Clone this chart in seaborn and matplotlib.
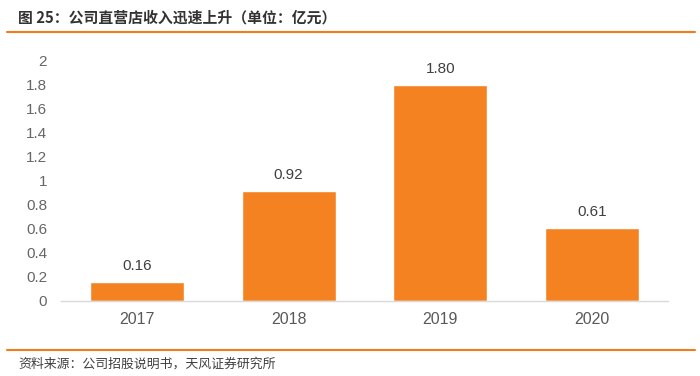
import matplotlib
matplotlib.use("Agg")
import matplotlib.pyplot as plt
import seaborn as sns
import pandas as pd
from matplotlib.lines import Line2D

years = ["2017", "2018", "2019", "2020"]
revenue = [0.16, 0.92, 1.80, 0.61]
yticks = [0, 0.2, 0.4, 0.6, 0.8, 1, 1.2, 1.4, 1.6, 1.8, 2]
ytick_labels = ["0", "0.2", "0.4", "0.6", "0.8", "1", "1.2", "1.4", "1.6", "1.8", "2"]
title = "图 25：公司直营店收入迅速上升（单位：亿元）"
source = "资料来源：公司招股说明书，天风证券研究所"

sns.set_theme(style="white")
plt.rcParams['font.family'] = ['Noto Sans CJK SC', 'DejaVu Sans']

df = pd.DataFrame({"year": years, "revenue": revenue})

fig = plt.figure(figsize=(7, 3.76), dpi=100)
ax = fig.add_axes([61/700, 75/376, 607/700, 240/376])
bar_color = "#F58220"
sns.barplot(data=df, x="year", y="revenue", color=bar_color, width=0.62,
            saturation=1, ax=ax)

ax.set_ylim(0, 2)
ax.set_yticks(yticks)
ax.set_yticklabels(ytick_labels, family=['Liberation Sans', 'DejaVu Sans'])
ax.set_xticks(range(len(years)))
ax.set_xticklabels(years, family=['Liberation Sans', 'DejaVu Sans'])
ax.tick_params(axis='y', labelsize=11, colors='#666666', length=0, pad=10)
ax.tick_params(axis='x', labelsize=11.5, colors='#595959', length=0, pad=8)
ax.set_xlabel("")
ax.set_ylabel("")
for s in ["top", "right", "left"]:
    ax.spines[s].set_visible(False)
ax.spines["bottom"].set_color("#D9D9D9")
ax.spines["bottom"].set_linewidth(1)

for i, v in enumerate(revenue):
    ax.annotate(f"{v:.2f}", (i, v), xytext=(0, 6.5), textcoords="offset points",
                ha="center", va="bottom", fontsize=11, color="#404040",
                family=['Liberation Sans', 'DejaVu Sans'])

fig.text(18/700, 1 - 18/376, title, fontsize=10.7, fontweight='bold',
         color="#333333", va="center", ha="left")
fig.add_artist(Line2D([7/700, 695/700], [1 - 32/376, 1 - 32/376],
                      color="#F07D1A", linewidth=1.5, transform=fig.transFigure))
fig.add_artist(Line2D([7/700, 695/700], [1 - 350/376, 1 - 350/376],
                      color="#F07D1A", linewidth=1.5, transform=fig.transFigure))
fig.text(18/700, 1 - 364/376, source, fontsize=9.3, color="#404040",
         va="center", ha="left")

fig.savefig("out.png", dpi=100)
